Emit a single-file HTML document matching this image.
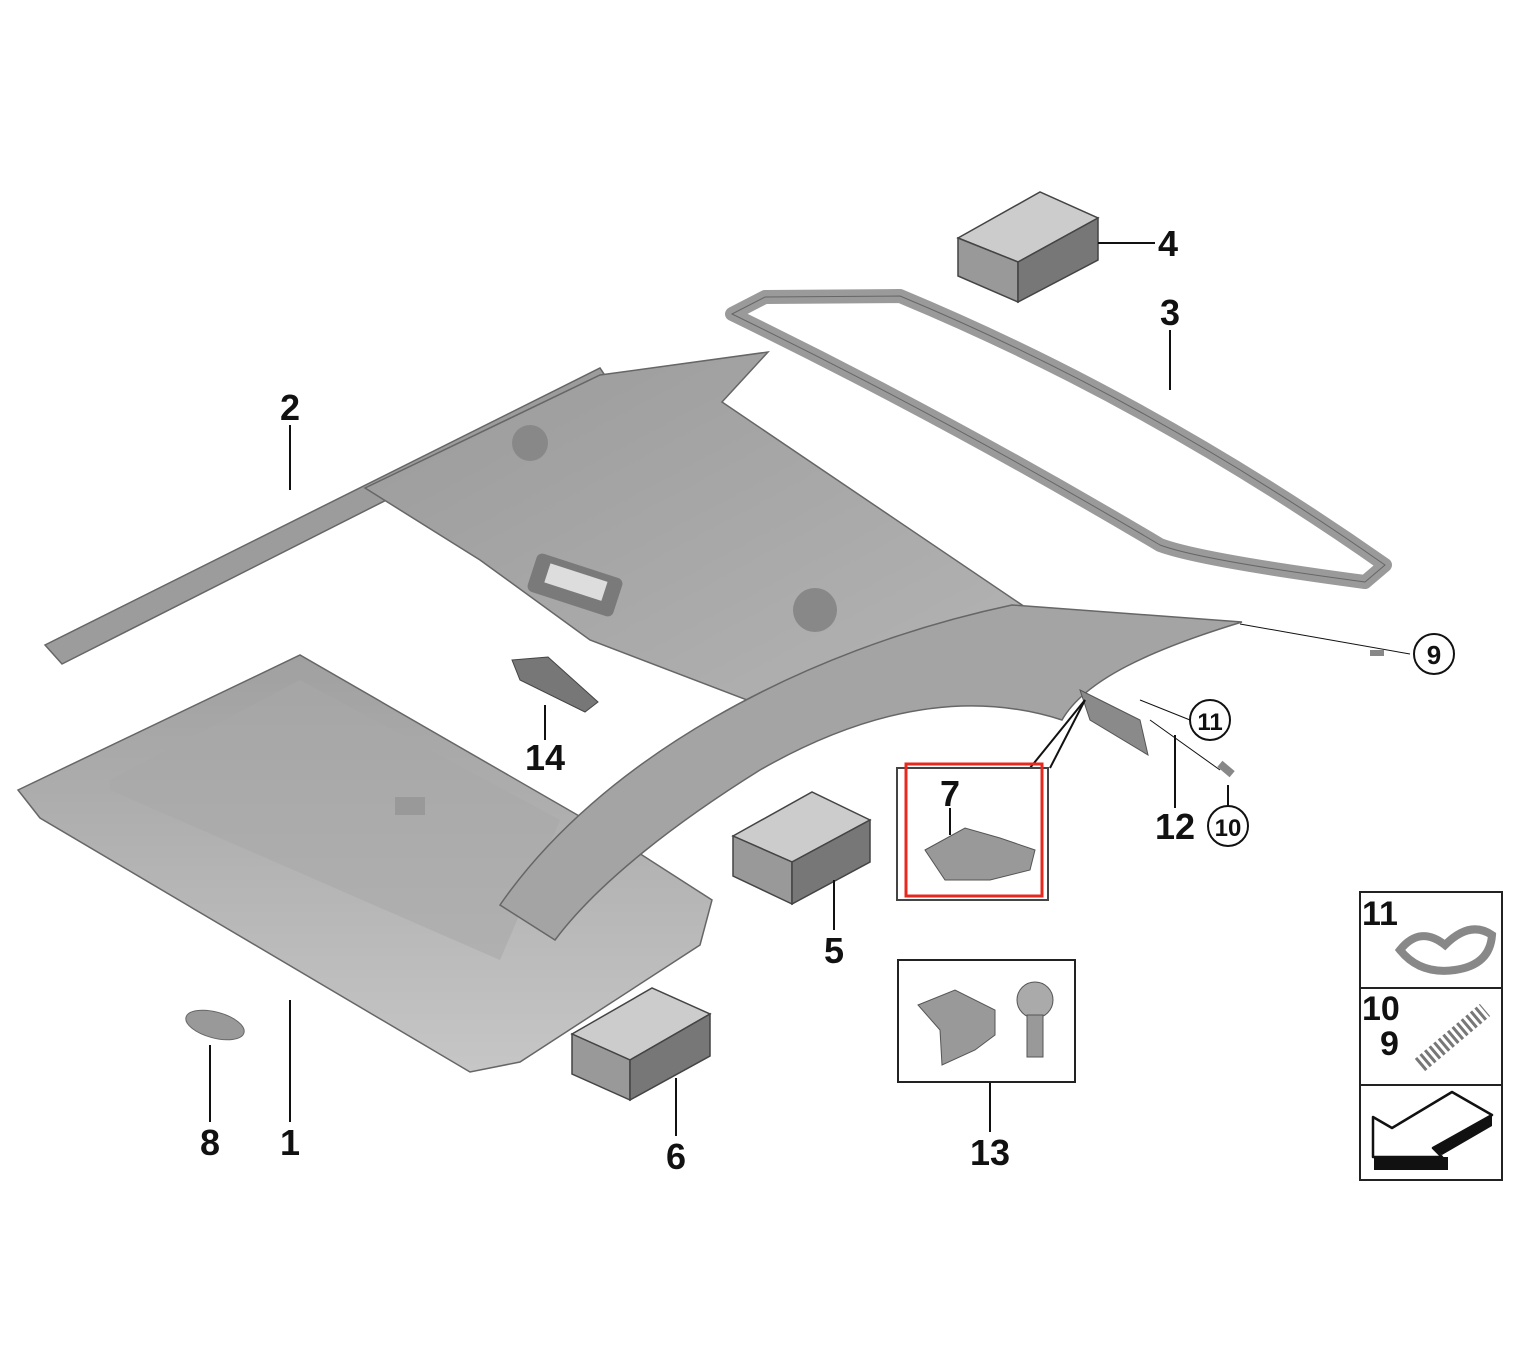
<!DOCTYPE html>
<html><head><meta charset="utf-8"><style>
html,body{margin:0;padding:0;background:#fff;}
svg{display:block}
text{font-family:"Liberation Sans",sans-serif;font-weight:bold;fill:#111}
</style></head><body>
<svg width="1516" height="1368" viewBox="0 0 1516 1368" xmlns="http://www.w3.org/2000/svg">
<defs>
<linearGradient id="g1" x1="0" y1="0" x2="1" y2="1"><stop offset="0" stop-color="#9a9a9a"/><stop offset="1" stop-color="#b4b4b4"/></linearGradient>
<linearGradient id="g2" x1="0" y1="0" x2="0" y2="1"><stop offset="0" stop-color="#a0a0a0"/><stop offset="1" stop-color="#c6c6c6"/></linearGradient>
</defs>
<polygon points="45,645 600,368 612,386 62,664" fill="#9c9c9c" stroke="#666" stroke-width="1.5"/>
<polygon points="365,488 600,375 768,352 722,402 1022,605 760,705 590,640 480,560" fill="url(#g1)" stroke="#666" stroke-width="1.5"/>
<rect x="530" y="565" width="90" height="40" rx="6" fill="#7a7a7a" transform="rotate(18 575 585)"/>
<rect x="545" y="572" width="60" height="20" fill="#ddd" transform="rotate(18 575 585)"/>
<circle cx="530" cy="443" r="18" fill="#888"/><circle cx="815" cy="610" r="22" fill="#888"/>
<path d="M732,314 L765,297 L900,296 Q1150,400 1385,565 L1365,582 Q1200,560 1160,545 Q950,420 732,314 Z" fill="none" stroke="#9a9a9a" stroke-width="14" stroke-linejoin="round"/>
<path d="M732,314 L765,297 L900,296 Q1150,400 1385,565 L1365,582 Q1200,560 1160,545 Q950,420 732,314 Z" fill="none" stroke="#666" stroke-width="1"/>
<polygon points="18,790 300,655 600,828 712,900 700,945 520,1062 470,1072 40,818" fill="url(#g2)" stroke="#666" stroke-width="1.5"/>
<polygon points="110,780 300,680 560,820 500,960 110,790" fill="#a9a9a9" opacity="0.6"/>
<rect x="395" y="797" width="30" height="18" fill="#999"/>
<path d="M500,905 C600,760 800,650 1012,605 L1242,622 C1150,650 1085,680 1062,720 C1000,700 900,690 760,770 C680,820 600,880 555,940 Z" fill="#a4a4a4" stroke="#666" stroke-width="1.5"/>
<polygon points="1080,690 1140,720 1148,755 1090,720" fill="#8a8a8a" stroke="#555"/>
<polygon points="512,660 548,657 598,702 585,712 520,680" fill="#777" stroke="#444"/>
<ellipse cx="215" cy="1025" rx="30" ry="13" fill="#999" stroke="#666" transform="rotate(15 215 1025)"/>
<g stroke="#444" stroke-width="1.5">
<polygon points="958,238 1040,192 1098,218 1018,262" fill="#ccc"/><polygon points="958,238 1018,262 1018,302 958,276" fill="#999"/><polygon points="1018,262 1098,218 1098,260 1018,302" fill="#777"/>
<polygon points="733,836 812,792 870,820 792,862" fill="#ccc"/><polygon points="733,836 792,862 792,904 733,876" fill="#999"/><polygon points="792,862 870,820 870,862 792,904" fill="#777"/>
<polygon points="572,1034 652,988 710,1014 630,1060" fill="#ccc"/><polygon points="572,1034 630,1060 630,1100 572,1074" fill="#999"/><polygon points="630,1060 710,1014 710,1056 630,1100" fill="#777"/>
</g>
<g stroke="#111" stroke-width="2" fill="none">
<line x1="290" y1="425" x2="290" y2="490"/>
<line x1="1170" y1="330" x2="1170" y2="390"/>
<line x1="1098" y1="243" x2="1155" y2="243"/>
<line x1="1240" y1="624" x2="1410" y2="654" stroke-width="1"/>
<line x1="1140" y1="700" x2="1190" y2="720" stroke-width="1"/>
<line x1="1150" y1="720" x2="1220" y2="770" stroke-width="1"/>
<line x1="1175" y1="735" x2="1175" y2="808"/>
<line x1="1228" y1="785" x2="1228" y2="808"/>
<line x1="1085" y1="700" x2="1030" y2="768"/><line x1="1085" y1="700" x2="1050" y2="768"/>
<line x1="834" y1="880" x2="834" y2="930"/>
<line x1="545" y1="705" x2="545" y2="740"/>
<line x1="990" y1="1082" x2="990" y2="1132"/>
<line x1="210" y1="1045" x2="210" y2="1122"/>
<line x1="290" y1="1000" x2="290" y2="1122"/>
<line x1="676" y1="1078" x2="676" y2="1136"/>
<line x1="950" y1="808" x2="950" y2="835"/>
</g>
<rect x="1370" y="650" width="14" height="6" fill="#888"/>
<rect x="1218" y="765" width="16" height="8" fill="#888" transform="rotate(40 1226 769)"/>
<g fill="#fff" stroke="#111" stroke-width="2"><circle cx="1434" cy="654" r="20"/><circle cx="1210" cy="720" r="20"/><circle cx="1228" cy="826" r="20"/></g>
<text x="1434" y="664" font-size="26" text-anchor="middle">9</text>
<text x="1210" y="730" font-size="24" text-anchor="middle">11</text>
<text x="1228" y="836" font-size="24" text-anchor="middle">10</text>
<g font-size="36" text-anchor="middle">
<text x="290" y="420">2</text><text x="1170" y="325">3</text><text x="1168" y="256">4</text>
<text x="1175" y="839">12</text><text x="950" y="806">7</text><text x="834" y="963">5</text>
<text x="545" y="770">14</text><text x="990" y="1165">13</text><text x="210" y="1155">8</text>
<text x="290" y="1155">1</text><text x="676" y="1169">6</text>
</g>
<rect x="897" y="768" width="151" height="132" fill="none" stroke="#444" stroke-width="2"/>
<path d="M925,850 L965,828 L1000,838 L1035,850 L1030,870 L990,880 L945,880 Z" fill="#999" stroke="#555"/>
<rect x="906" y="764" width="136" height="132" fill="none" stroke="#e8281e" stroke-width="3"/>
<rect x="898" y="960" width="177" height="122" fill="none" stroke="#222" stroke-width="2"/>
<polygon points="918,1005 955,990 995,1010 995,1035 975,1050 942,1065 940,1030" fill="#999" stroke="#555"/>
<circle cx="1035" cy="1000" r="18" fill="#aaa" stroke="#555"/><rect x="1027" y="1015" width="16" height="42" fill="#999" stroke="#555"/>
<rect x="1360" y="892" width="142" height="288" fill="none" stroke="#222" stroke-width="2"/>
<line x1="1360" y1="988" x2="1502" y2="988" stroke="#222" stroke-width="2"/>
<line x1="1360" y1="1085" x2="1502" y2="1085" stroke="#222" stroke-width="2"/>
<text x="1362" y="925" font-size="34">11</text>
<text x="1362" y="1020" font-size="34">10</text>
<text x="1380" y="1055" font-size="34">9</text>
<path d="M1400,950 Q1420,925 1445,945 Q1470,920 1492,935 Q1490,965 1455,970 Q1420,975 1400,950 Z" fill="none" stroke="#888" stroke-width="8"/>
<line x1="1420" y1="1065" x2="1485" y2="1010" stroke="#777" stroke-width="16" stroke-dasharray="3 3"/>
<polygon points="1374,1157 1448,1157 1448,1170 1374,1170" fill="#111"/>
<polygon points="1433,1148 1492,1115 1492,1126 1442,1155" fill="#111"/>
<polygon points="1373,1117 1392,1128 1452,1092 1492,1115 1433,1148 1442,1157 1373,1157" fill="#fff" stroke="#111" stroke-width="2.5" stroke-linejoin="round"/>
</svg>
</body></html>
